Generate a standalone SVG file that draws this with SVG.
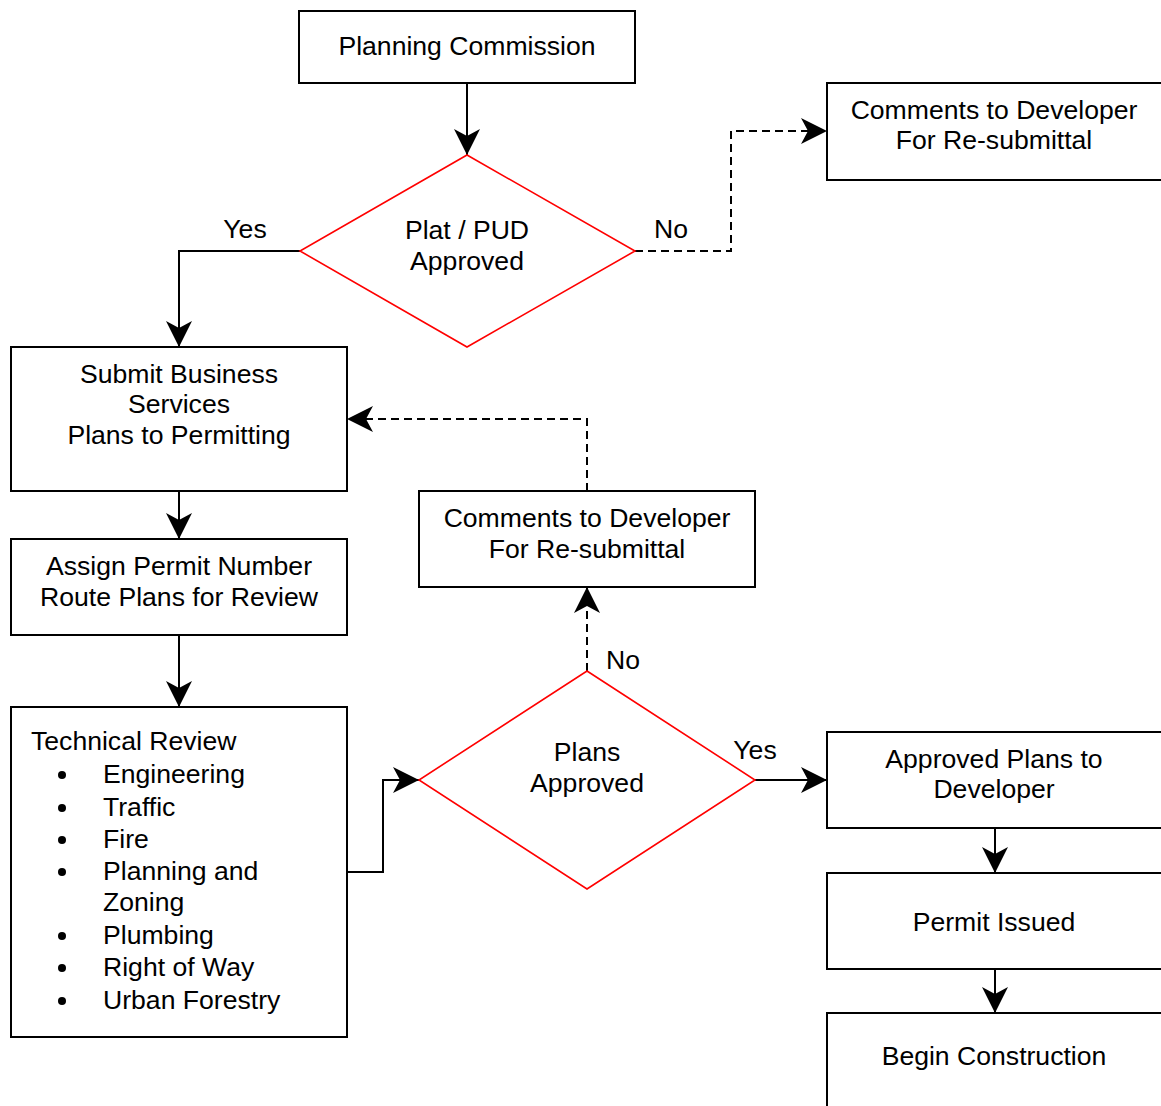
<svg xmlns="http://www.w3.org/2000/svg" width="1161" height="1106" viewBox="0 0 1161 1106">
<style>
.box{fill:#fff;stroke:#000;stroke-width:2}
.dia{fill:#fff;stroke:#ff0000;stroke-width:1.6}
.t{font-family:"Liberation Sans",Arial,sans-serif;font-size:26.6px;fill:#000}
.c{text-anchor:middle}
.ln{fill:none;stroke:#000;stroke-width:2}
.dash{stroke-dasharray:8 5}
</style>
<defs>
<marker id="ah" markerUnits="userSpaceOnUse" markerWidth="28" markerHeight="28" refX="26" refY="13" orient="auto" viewBox="0 0 28 28" overflow="visible">
<path d="M0,0 L26,13 L0,26 L7,13 Z" fill="#000"/>
</marker>
</defs>
<rect width="1161" height="1106" fill="#fff"/>
<g id="connectors">
<path class="ln" d="M467,83 V155" marker-end="url(#ah)"/>
<path class="ln dash" d="M635,251 H731 V131 H827" marker-end="url(#ah)"/>
<path class="ln" d="M300,251 H179 V347" marker-end="url(#ah)"/>
<path class="ln" d="M179,491 V539" marker-end="url(#ah)"/>
<path class="ln" d="M179,635 V707" marker-end="url(#ah)"/>
<path class="ln" d="M347,872 H383 V780 H419" marker-end="url(#ah)"/>
<path class="ln dash" d="M587,671 V587" marker-end="url(#ah)"/>
<path class="ln dash" d="M587,491 V419 H347" marker-end="url(#ah)"/>
<path class="ln" d="M755,780 H827" marker-end="url(#ah)"/>
<path class="ln" d="M995,828 V873" marker-end="url(#ah)"/>
<path class="ln" d="M995,969 V1013" marker-end="url(#ah)"/>
<text class="t c" x="245" y="238">Yes</text>
<text class="t c" x="671" y="238">No</text>
<text class="t c" x="623" y="669">No</text>
<text class="t c" x="755" y="759">Yes</text>
</g>
<g id="planning-commission">
<rect class="box" x="299" y="11" width="336" height="72"/>
<text class="t c" x="467" y="55">Planning Commission</text>
</g>
<g id="plat-approved">
<path class="dia" d="M467,155 L635,251 L467,347 L300,251 Z"/>
<text class="t c" x="467" y="239">Plat / PUD</text>
<text class="t c" x="467" y="270">Approved</text>
</g>
<g id="comments-1">
<rect class="box" x="827" y="83" width="340" height="97"/>
<text class="t c" x="994" y="119">Comments to Developer</text>
<text class="t c" x="994" y="149">For Re-submittal</text>
</g>
<g id="submit">
<rect class="box" x="11" y="347" width="336" height="144"/>
<text class="t c" x="179" y="383">Submit Business</text>
<text class="t c" x="179" y="413">Services</text>
<text class="t c" x="179" y="444">Plans to Permitting</text>
</g>
<g id="assign">
<rect class="box" x="11" y="539" width="336" height="96"/>
<text class="t c" x="179" y="575">Assign Permit Number</text>
<text class="t c" x="179" y="606">Route Plans for Review</text>
</g>
<g id="technical-review">
<rect class="box" x="11" y="707" width="336" height="330"/>
<text class="t" x="31" y="750">Technical Review</text>
<g fill="#000">
<circle cx="62" cy="775" r="4"/>
<circle cx="62" cy="808" r="4"/>
<circle cx="62" cy="840" r="4"/>
<circle cx="62" cy="872" r="4"/>
<circle cx="62" cy="936" r="4"/>
<circle cx="62" cy="968" r="4"/>
<circle cx="62" cy="1001" r="4"/>
</g>
<text class="t" x="103" y="783">Engineering</text>
<text class="t" x="103" y="816">Traffic</text>
<text class="t" x="103" y="848">Fire</text>
<text class="t" x="103" y="880">Planning and</text>
<text class="t" x="103" y="911">Zoning</text>
<text class="t" x="103" y="944">Plumbing</text>
<text class="t" x="103" y="976">Right of Way</text>
<text class="t" x="103" y="1009">Urban Forestry</text>
</g>
<g id="comments-2">
<rect class="box" x="419" y="491" width="336" height="96"/>
<text class="t c" x="587" y="527">Comments to Developer</text>
<text class="t c" x="587" y="558">For Re-submittal</text>
</g>
<g id="plans-approved">
<path class="dia" d="M587,671 L755,780 L587,889 L419,780 Z"/>
<text class="t c" x="587" y="761">Plans</text>
<text class="t c" x="587" y="792">Approved</text>
</g>
<g id="approved-plans">
<rect class="box" x="827" y="732" width="340" height="96"/>
<text class="t c" x="994" y="768">Approved Plans to</text>
<text class="t c" x="994" y="798">Developer</text>
</g>
<g id="permit-issued">
<rect class="box" x="827" y="873" width="340" height="96"/>
<text class="t c" x="994" y="931">Permit Issued</text>
</g>
<g id="begin-construction">
<rect class="box" x="827" y="1013" width="340" height="110"/>
<text class="t c" x="994" y="1065">Begin Construction</text>
</g>
</svg>
